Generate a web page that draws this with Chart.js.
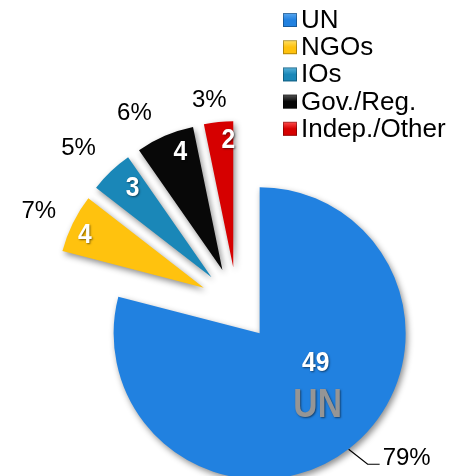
<!DOCTYPE html>
<html>
<head>
<meta charset="utf-8">
<script src="https://cdn.jsdelivr.net/npm/chart.js@4.4.1/dist/chart.umd.min.js"></script>
<style>
  html, body { margin: 0; padding: 0; background: #fff; }
  #wrap { width: 454px; height: 476px; position: relative; }
</style>
</head>
<body>
<div id="wrap"><canvas id="pieChart"></canvas></div>
<script>
// Chart data
const categories = ['UN', 'NGOs', 'IOs', 'Gov./Reg.', 'Indep./Other'];
const counts = [49, 4, 3, 4, 2];
const percentLabels = ['79%', '7%', '5%', '6%', '3%'];
const sliceColors = ['#2181e0', '#ffc20e', '#1a87b8', '#080808', '#d60000'];
const boxLight = ['#5aa8f0', '#ffe066', '#5ab4dc', '#555555', '#ff5050'];

// Layout bits (pixels)
const EXPLODE = 37;
const valueOffsets = [[56, 30], [-119, -52], [-79, -89], [-42, -118], [-5, -127]];
const percentOffsets = [[0, 0], [-165, -76], [-133, -129], [-88, -157], [-24, -167]];
const labelFont = "'Liberation Sans', Arial, sans-serif";
const boldFont = "'Liberation Sans', Arial, sans-serif";

// Push every slice out along its bisector (Excel style "exploded" pie)
const explodePlugin = {
    id: 'explode',
    afterDatasetUpdate(chart, args) {
        const meta = chart.getDatasetMeta(args.index);
        meta.data.forEach(arc => {
            const mid = (arc.startAngle + arc.endAngle) / 2;
            arc.x += Math.cos(mid) * EXPLODE;
            arc.y += Math.sin(mid) * EXPLODE;
        });
    }
};

// Soft drop shadow under the slices
const shadowPlugin = {
    id: 'sliceShadow',
    beforeDatasetDraw(chart) {
        const ctx = chart.ctx;
        ctx.save();
        ctx.shadowColor = 'rgba(0, 0, 0, 0.45)';
        ctx.shadowBlur = 6;
        ctx.shadowOffsetX = 2;
        ctx.shadowOffsetY = 3;
    },
    afterDatasetDraw(chart) {
        chart.ctx.restore();
    }
};

// condensed bold text (no narrow font installed, so squeeze it)
function narrowText(ctx, text, x, y, size, sx) {
    ctx.save();
    ctx.translate(x, y);
    ctx.scale(sx, 1);
    ctx.font = 'bold ' + size + 'px ' + boldFont;
    ctx.fillText(text, 0, 0);
    ctx.restore();
}

// Value labels, percentages and the legend
const labelPlugin = {
    id: 'sliceLabels',
    afterDatasetsDraw(chart) {
        const ctx = chart.ctx;
        const arcs = chart.getDatasetMeta(0).data;
        ctx.save();
        ctx.textAlign = 'center';
        ctx.textBaseline = 'middle';

        arcs.forEach((arc, i) => {
            const [vx, vy] = valueOffsets[i];
            ctx.save();
            ctx.shadowColor = 'rgba(0, 0, 0, 0.5)';
            ctx.shadowBlur = 2;
            ctx.shadowOffsetX = 1;
            ctx.shadowOffsetY = 1;
            ctx.fillStyle = '#ffffff';
            narrowText(ctx, String(counts[i]), arc.x + vx, arc.y + vy, 28, 0.88);
            if (i === 0) {
                ctx.fillStyle = '#959595';
                narrowText(ctx, categories[0], arc.x + 58, arc.y + 72, 41, 0.82);
            }
            ctx.restore();

            ctx.fillStyle = '#000000';
            ctx.font = '24px ' + labelFont;
            if (i === 0) {
                // leader line for the big slice
                ctx.strokeStyle = '#000000';
                ctx.lineWidth = 1.2;
                ctx.beginPath();
                ctx.moveTo(arc.x + 89, arc.y + 116);
                ctx.lineTo(arc.x + 108, arc.y + 131);
                ctx.lineTo(arc.x + 120, arc.y + 131);
                ctx.stroke();
                ctx.textAlign = 'left';
                ctx.textBaseline = 'alphabetic';
                ctx.fillText(percentLabels[0], arc.x + 123, arc.y + 132);
                ctx.textAlign = 'center';
                ctx.textBaseline = 'middle';
            } else {
                const [px, py] = percentOffsets[i];
                ctx.fillText(percentLabels[i], arc.x + px, arc.y + py);
            }
        });

        // legend, top right
        ctx.textAlign = 'left';
        ctx.textBaseline = 'alphabetic';
        ctx.font = '26px ' + labelFont;
        categories.forEach((name, i) => {
            const base = 28 + i * 27.2;
            const grad = ctx.createLinearGradient(0, base - 15, 0, base - 1);
            grad.addColorStop(0, boxLight[i]);
            grad.addColorStop(0.5, sliceColors[i]);
            grad.addColorStop(1, sliceColors[i]);
            ctx.fillStyle = grad;
            ctx.fillRect(283, base - 15, 14, 14);
            ctx.strokeStyle = 'rgba(0,0,0,0.3)';
            ctx.lineWidth = 1;
            ctx.strokeRect(283.5, base - 14.5, 13, 13);
            ctx.fillStyle = '#000000';
            ctx.fillText(name, 301, base);
        });
        ctx.restore();
    }
};

const ctx = document.getElementById('pieChart').getContext('2d');
const pieChart = new Chart(ctx, {
    type: 'pie',
    data: {
        labels: categories,
        datasets: [{
            data: counts,
            backgroundColor: sliceColors,
            borderWidth: 0
        }]
    },
    options: {
        responsive: true,
        maintainAspectRatio: false,
        animation: false,
        radius: 146,
        layout: { padding: { left: 20, top: 132, right: 0, bottom: 0 } },
        plugins: {
            legend: { display: false },
            tooltip: { enabled: true }
        }
    },
    plugins: [explodePlugin, shadowPlugin, labelPlugin]
});
</script>
</body>
</html>
